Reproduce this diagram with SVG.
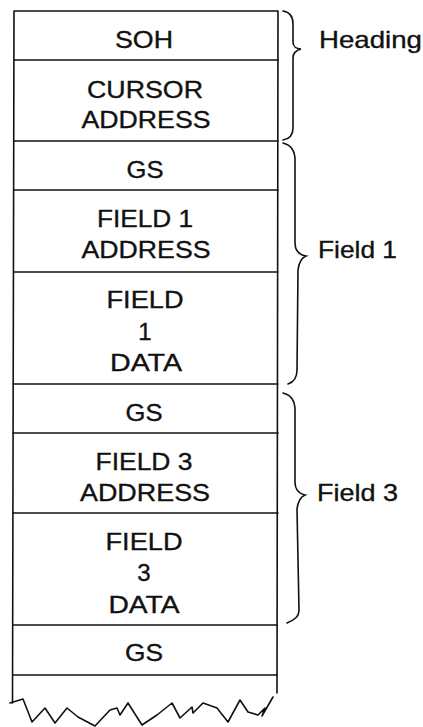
<svg xmlns="http://www.w3.org/2000/svg" width="423" height="727" viewBox="0 0 423 727">
<style>
.ln{stroke:#111;stroke-width:1.6;fill:none;stroke-linecap:round;stroke-linejoin:round}
.br{stroke:#111;stroke-width:1.6;fill:none;stroke-linecap:round}
text{font-family:"Liberation Sans",Arial,sans-serif;font-size:24px;fill:#111;stroke:#111;stroke-width:0.35}
.c{text-anchor:middle}
</style>
<rect width="423" height="727" fill="#fff"/>
<g id="frame">
<path class="ln" d="M14,11 L278,11 M14,11 L12.5,703 M278,11 L277,693"/>
<path class="ln" d="M14,60 L278,60 M14,141 L278,141 M14,190 L278,190 M14,272 L278,272 M13,384 L278,384 M13,433 L278,433 M13,513 L278,513 M13,625 L277,625 M13,675 L277,675"/>
<path class="ln" d="M10,703 L23,699 L32,722 L45,708 L55,723 L67,708 L78,717 L95,726 L110,710 L117,708 L120,715 L128,703 L142,725 L157,715 L172,703 L180,718 L192,707 L193,713 L203,703 L217,708 L228,722 L240,700 L248,712 L258,715 L265,708 L262,716 L273,697"/>
</g>
<g id="soh"><text class="c" x="144" y="48" textLength="58" lengthAdjust="spacingAndGlyphs">SOH</text></g>
<g id="cursor"><text class="c" x="145" y="98" textLength="116" lengthAdjust="spacingAndGlyphs">CURSOR</text><text class="c" x="146" y="128" textLength="129" lengthAdjust="spacingAndGlyphs">ADDRESS</text></g>
<g id="gs1"><text class="c" x="145" y="178" textLength="37" lengthAdjust="spacingAndGlyphs">GS</text></g>
<g id="f1addr"><text class="c" x="145" y="227" textLength="96" lengthAdjust="spacingAndGlyphs">FIELD 1</text><text class="c" x="146" y="258" textLength="129" lengthAdjust="spacingAndGlyphs">ADDRESS</text></g>
<g id="f1data"><text class="c" x="145" y="308" textLength="77" lengthAdjust="spacingAndGlyphs">FIELD</text><text class="c" x="145" y="340">1</text><text class="c" x="146" y="371" textLength="72" lengthAdjust="spacingAndGlyphs">DATA</text></g>
<g id="gs2"><text class="c" x="144" y="421" textLength="37" lengthAdjust="spacingAndGlyphs">GS</text></g>
<g id="f3addr"><text class="c" x="144" y="470" textLength="97" lengthAdjust="spacingAndGlyphs">FIELD 3</text><text class="c" x="145" y="501" textLength="130" lengthAdjust="spacingAndGlyphs">ADDRESS</text></g>
<g id="f3data"><text class="c" x="144" y="550" textLength="77" lengthAdjust="spacingAndGlyphs">FIELD</text><text class="c" x="144" y="581">3</text><text class="c" x="144" y="613" textLength="71" lengthAdjust="spacingAndGlyphs">DATA</text></g>
<g id="gs3"><text class="c" x="144" y="661" textLength="38" lengthAdjust="spacingAndGlyphs">GS</text></g>
<g id="braces">
<path class="br" d="M283,11 C290,12 293,16 293,24 L293,42 C293,47 297,49 301,49 C297,50 293,53 293,58 L293,128 C293,135 289,139 283,140"/>
<path class="br" d="M283,143 C291,145 295,150 295,160 L295,243 C295,251 300,255 306,256 C301,258 299,262 298,270 L297,370 C297,378 294,382 288,384"/>
<path class="br" d="M283,393 C291,395 295,400 295,410 L295,482 C295,490 300,494 305,495 C300,497 298,501 297,509 L299,610 C299,617 294,620 287,623"/>
</g>
<g id="labels">
<text x="319" y="48" textLength="103" lengthAdjust="spacingAndGlyphs">Heading</text>
<text x="318" y="258" textLength="79" lengthAdjust="spacingAndGlyphs">Field 1</text>
<text x="317" y="501" textLength="81" lengthAdjust="spacingAndGlyphs">Field 3</text>
</g>
</svg>
